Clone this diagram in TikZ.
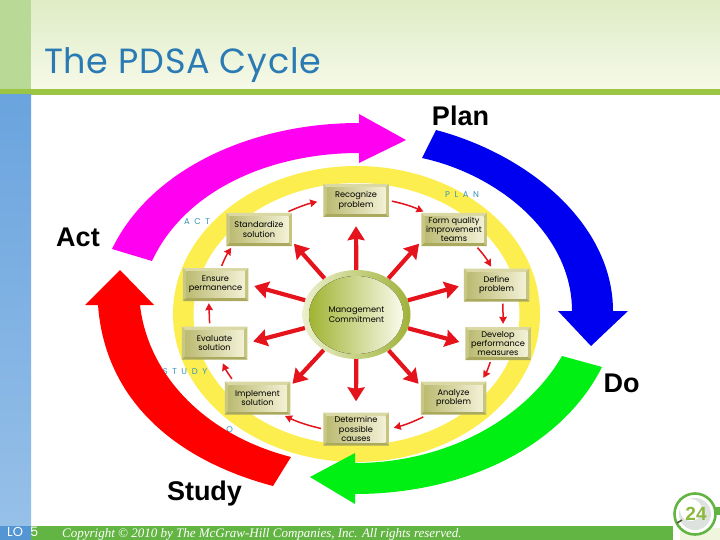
\documentclass[tikz,border=0pt]{standalone}
\usepackage{fontspec}
\setmainfont{Liberation Sans}
\newfontfamily\titlef[LetterSpace=2]{Poppins}
\newfontfamily\boxf{Poppins}
\newfontfamily\tagf[LetterSpace=55]{Poppins}
\newfontfamily\footf{Liberation Serif}
\usetikzlibrary{arrows.meta,calc,shapes.geometric}
\definecolor{ringy}{HTML}{FDEE50}
\definecolor{arrowred}{HTML}{E5141C}
\definecolor{titleblue}{HTML}{2A7AB4}
\definecolor{tagblue}{HTML}{3A93B5}
\definecolor{barg}{HTML}{9DC544}
\definecolor{footg}{HTML}{63B543}
\tikzset{
  x=1pt,y=-1pt,
  bevelbox/.style={minimum width=65.5pt,minimum height=33pt,inner sep=0pt,align=center,
    font=\boxf\fontsize{8.2}{9.4}\selectfont,
    path picture={
      \coordinate (nw) at (path picture bounding box.north west);
      \coordinate (ne) at (path picture bounding box.north east);
      \coordinate (sw) at (path picture bounding box.south west);
      \coordinate (se) at (path picture bounding box.south east);
      \coordinate (inw) at ($(nw)+(3.5pt,-3.5pt)$);
      \coordinate (ine) at ($(ne)+(-3.5pt,-3.5pt)$);
      \coordinate (isw) at ($(sw)+(3.5pt,3.5pt)$);
      \coordinate (ise) at ($(se)+(-3.5pt,3.5pt)$);
      \fill[color={rgb,255:red,218;green,217;blue,165}] (nw)--(ne)--(ine)--(inw)--cycle;
      \fill[color={rgb,255:red,200;green,199;blue,132}] (nw)--(sw)--(isw)--(inw)--cycle;
      \fill[color={rgb,255:red,198;green,197;blue,128}] (ne)--(se)--(ise)--(ine)--cycle;
      \fill[color={rgb,255:red,170;green,169;blue,94}] (sw)--(se)--(ise)--(isw)--cycle;
      \shade[left color={rgb,255:red,188;green,187;blue,115},right color={rgb,255:red,242;green,241;blue,214}] (inw) rectangle (ise);
    }},
  radial/.style={draw=arrowred,line width=4.2pt,-{Stealth[inset=1.5pt,width=17pt,length=14pt]}},
  cyclearrow/.style={draw=arrowred,line width=1.5pt,-{Stealth[inset=0.5pt,width=7.5pt,length=7pt]},bend left=6},
  bigtext/.style={anchor=base,font=\bfseries\fontsize{27}{27}\selectfont,inner sep=0pt},
  tag/.style={font=\tagf\fontsize{8.4}{9}\selectfont,text=tagblue,inner sep=0pt}
}
\begin{document}
\begin{tikzpicture}
\useasboundingbox (0,0) rectangle (720,540);
% background
\fill[white] (0,0) rectangle (720,540);
\shade[top color={rgb,255:red,222;green,236;blue,198},bottom color={rgb,255:red,246;green,249;blue,232}] (31,0) rectangle (720,89);
\fill[color={rgb,255:red,184;green,218;blue,150}] (0,0) rectangle (31,89);
\fill[barg] (0,89) rectangle (720,95);
\shade[top color={rgb,255:red,106;green,164;blue,222},bottom color={rgb,255:red,150;green,192;blue,232}] (0,95) rectangle (31,526);
\fill[color={rgb,255:red,84;green,150;blue,212}] (0,526) rectangle (31,540);
\fill[footg] (31,526) rectangle (673,540);
\fill[color={rgb,255:red,240;green,246;blue,222}] (680,528) rectangle (720,540);
\node[anchor=base west,inner sep=0pt,font=\titlef\fontsize{35}{35}\selectfont,text=titleblue] (title) at (44,74) {The PDSA Cycle};
% ring
\fill[ringy,even odd rule] (356.5,314) ellipse [x radius=183.5,y radius=148] (356.5,314) ellipse [x radius=163,y radius=131];
% stage tags
\node[tag] (tplan) at (462,195) {PLAN};
\node[tag] (tact) at (197,222) {ACT};
\node[tag] (tstudy) at (185,372) {STUDY};
\node[tag] (tdo) at (224.5,430) {DO};
% big arrows
\fill[color={rgb,255:red,255;green,0;blue,240}] (112,249) .. controls (150,170) and (250,123) .. (359,123) -- (359,114) -- (406,140) -- (359,163) -- (359,153) .. controls (270,153) and (185,190) .. (152,261) -- cycle;
\fill[color={rgb,255:red,0;green,0;blue,240}] (436,130) .. controls (530,155) and (613,225) .. (613,311) -- (628,311) -- (591,346) -- (558,311) -- (572,311) .. controls (572,235) and (500,175) .. (422,158) -- cycle;
\fill[color={rgb,255:red,0;green,240;blue,20}] (602,367) .. controls (560,450) and (460,494) .. (355,494) -- (355,504) -- (310,477) -- (355,453) -- (355,463) .. controls (445,463) and (525,420) .. (562,356) -- cycle;
\fill[color={rgb,255:red,255;green,0;blue,0}] (273,486) .. controls (175,460) and (105,400) .. (98,305) -- (85,305) -- (120,270) -- (154,305) -- (140,305) .. controls (148,375) and (205,435) .. (291,457) -- cycle;
% labels
\node[bigtext] (lplan) at (460.5,126) {Plan};
\node[bigtext] (lact) at (78,246) {Act};
\node[bigtext] (ldo) at (621.5,392) {Do};
\node[bigtext] (lstudy) at (204.5,500.5) {Study};
% centre
\node[ellipse,minimum width=108pt,minimum height=89pt,inner sep=0pt,left color={rgb,255:red,236;green,240;blue,205},right color={rgb,255:red,160;green,178;blue,56}] (mgmt) at (356.5,314.5) {};
\fill[left color={rgb,255:red,160;green,180;blue,50},right color={rgb,255:red,250;green,250;blue,236}] (356,315) ellipse [x radius=47,y radius=39];
\node[font=\boxf\fontsize{8.2}{9.4}\selectfont,align=center,inner sep=0pt] (mtext) at (356.5,314.5) {Management\\Commitment};
% boxes
\node[bevelbox] (rec) at (356,200.5) {Recognize\\problem};
\node[bevelbox] (form) at (454,229.5) {Form quality\\improvement\\teams};
\node[bevelbox] (def) at (496.5,285) {Define\\problem};
\node[bevelbox] (dev) at (498,343.5) {Develop\\performance\\measures};
\node[bevelbox] (ana) at (453.5,398) {Analyze\\problem};
\node[bevelbox] (det) at (356,429) {Determine\\possible\\causes};
\node[bevelbox] (imp) at (257.5,398) {Implement\\solution};
\node[bevelbox] (eva) at (214.5,343) {Evaluate\\solution};
\node[bevelbox] (ens) at (215.5,284.5) {Ensure\\permanence};
\node[bevelbox] (std) at (259,229.5) {Standardize\\solution};
% radial arrows
\draw[radial,shorten >=9pt] (mgmt) -- (rec.south);
\draw[radial,shorten >=3pt] (mgmt) -- (form.200);
\draw[radial,shorten >=5pt] (mgmt) -- (def.west);
\draw[radial,shorten >=6pt] (mgmt) -- (dev.west);
\draw[radial,shorten >=3pt] (mgmt) -- (ana.160);
\draw[radial,shorten >=11pt] (mgmt) -- (det.north);
\draw[radial,shorten >=3pt] (mgmt) -- (imp.20);
\draw[radial,shorten >=6pt] (mgmt) -- (eva.east);
\draw[radial,shorten >=6pt] (mgmt) -- (ens.east);
\draw[radial,shorten >=3pt] (mgmt) -- (std.-20);
% cycle arrows
\draw[cyclearrow,shorten <=3pt,shorten >=3pt] (rec.east) to (form.149);
\draw[cyclearrow,shorten <=2pt,shorten >=2pt] (form.-37) to (def.105);
\draw[cyclearrow,bend left=0,shorten <=2pt,shorten >=3pt] (def.-69) to (dev.73);
\draw[cyclearrow,shorten <=2pt,shorten >=4pt] (dev.247) to (ana.31);
\draw[cyclearrow,shorten <=5pt,shorten >=5pt] (ana.213) to (det.east);
\draw[cyclearrow,shorten <=2pt,shorten >=3pt] (det.west) to (imp.-34);
\draw[cyclearrow,shorten <=3pt,shorten >=4pt] (imp.145) to (eva.-68);
\draw[cyclearrow,bend left=0,shorten <=3pt,shorten >=2pt] (eva.106) to (ens.248);
\draw[cyclearrow,shorten <=2pt,shorten >=2pt] (ens.72) to (std.212);
\draw[cyclearrow,shorten <=3pt,shorten >=6pt] (std.32) to (rec.west);
% footer
\node[anchor=base west,inner sep=0pt,text=white,font=\boxf\fontsize{13}{14}\selectfont] (lo) at (7,536.5) {LO\hspace{7pt}5};
\node[anchor=base west,inner sep=0pt,text=white,font=\footf\itshape\fontsize{13}{13}\selectfont] (copy) at (62,537) {Copyright © 2010 by The McGraw-Hill Companies, Inc. All rights reserved.};
% page badge
\fill[footg] (712,507) rectangle (720,515);
\draw[footg,line width=2.6pt,fill=white] (695,514) circle (20.5);
\fill[color={rgb,255:red,222;green,226;blue,222}] (695,514) circle (16);
\fill[white] (691,510) circle (11);
\draw[color={rgb,255:red,70;green,80;blue,60},line width=1.5pt] (677,523) -- (682,520);
\node[inner sep=0pt,text={rgb,255:red,138;green,184;blue,60},font=\bfseries\fontsize{19}{19}\selectfont] (page) at (696,514) {24};
\end{tikzpicture}
\end{document}
